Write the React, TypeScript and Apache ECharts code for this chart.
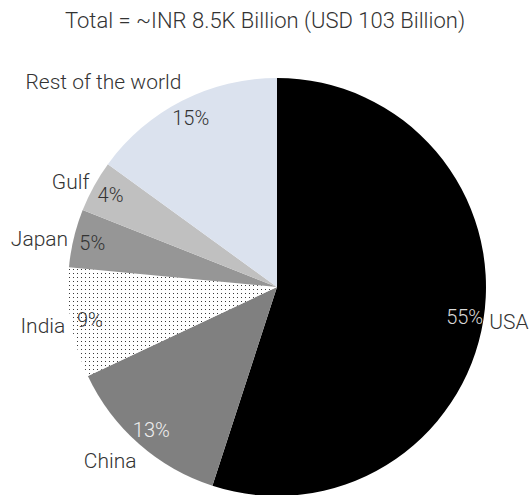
import React, { useEffect, useRef } from 'react';
import * as echarts from 'echarts';

const titleText = 'Total = ~INR 8.5K Billion (USD 103 Billion)';
const categories = ['USA', 'China', 'India', 'Japan', 'Gulf', 'Rest of the world'];
const shares = [55, 13, 8.5, 4.5, 4, 15];
const sliceColors = ['#000000', '#808080', 'dots', '#969696', '#c0c0c0', '#dbe2ee'];
const percentColors = ['#d9d9d9', '#eeeeee', '#333333', '#333333', '#333333', '#333333'];

const FONT = 'Roboto, "Noto Sans", sans-serif';

function makeDots() {
  const c = document.createElement('canvas');
  c.width = 4;
  c.height = 4;
  const ctx = c.getContext('2d')!;
  ctx.fillStyle = '#ffffff';
  ctx.fillRect(0, 0, 4, 4);
  ctx.fillStyle = '#3a3a3a';
  ctx.fillRect(1, 1, 1, 1);
  return c;
}

export default function App() {
  const ref = useRef<HTMLDivElement>(null);
  useEffect(() => {
    if (!ref.current) return;
    const chart = echarts.init(ref.current, null, { renderer: 'svg' });
    const dots = makeDots();
    const total = shares.reduce((a, b) => a + b, 0);
    const midUx: number[] = [];
    const midUy: number[] = [];
    let acc = 0;
    shares.forEach((v) => {
      const mid = ((acc + v / 2) / total) * Math.PI * 2;
      midUx.push(Math.sin(mid));
      midUy.push(-Math.cos(mid));
      acc += v;
    });
    const center = [277, 287];
    const radius = 209;
    const fill = (c: string) => (c === 'dots' ? { image: dots, repeat: 'repeat' } : c);
    chart.setOption({
      animation: false,
      title: {
        text: titleText,
        left: 'center',
        top: 4,
        textStyle: { fontFamily: FONT, fontWeight: 300, fontSize: 22, color: '#333333' },
      },
      series: [
        {
          type: 'pie',
          center,
          radius: [0, radius],
          startAngle: 90,
          clockwise: true,
          avoidLabelOverlap: false,
          silent: true,
          data: categories.map((name, i) => ({
            name,
            value: shares[i],
            itemStyle: { color: fill(sliceColors[i]) as any },
          })),
          label: {
            show: true,
            position: 'outside',
            formatter: '{b}',
            fontFamily: FONT,
            fontWeight: 300,
            fontSize: 21,
            color: '#333333',
          },
          labelLine: { show: false, length: 1, length2: 0 },
          labelLayout: (p: any) => {
            const uy = midUy[p.dataIndex];
            const ux = midUx[p.dataIndex];
            return {
              dx: -Math.sign(ux) * 6 * uy * uy,
              dy: 2 + 25 * uy * Math.abs(uy),
            };
          },
        },
        {
          type: 'pie',
          center,
          radius: [168, 206],
          startAngle: 90,
          clockwise: true,
          silent: true,
          avoidLabelOverlap: false,
          itemStyle: { color: 'transparent' },
          data: categories.map((name, i) => ({
            name,
            value: shares[i],
            label: { color: percentColors[i] },
          })),
          label: {
            show: true,
            position: 'inside',
            formatter: (p: any) => `${Math.round(p.value)}%`,
            fontFamily: FONT,
            fontWeight: 300,
            fontSize: 20,
          },
          labelLine: { show: false },
        },
      ],
    });
    return () => chart.dispose();
  }, []);
  return (
    <div
      ref={ref}
      style={{ position: 'fixed', left: 0, top: 0, width: 530, height: 495, background: '#ffffff' }}
    />
  );
}
